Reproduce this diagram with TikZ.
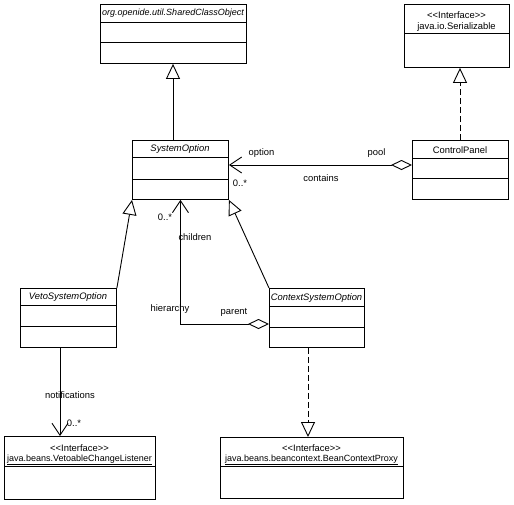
\documentclass[tikz,border=0pt]{standalone}
\usepackage{fontspec}
\setmainfont{Liberation Sans}
\usetikzlibrary{arrows.meta}
\newcommand{\stereo}{{<}{<}Interface{>}{>}}
\begin{document}
\begin{tikzpicture}[x=1pt,y=-1pt,
  font=\fontsize{9.4}{10}\selectfont,
  line width=0.9pt,
  box/.style={draw, rectangle, anchor=north west, inner sep=0pt},
  txt/.style={inner sep=0pt, anchor=center},
  long/.style={txt, font=\fontsize{9}{10}\selectfont},
  gen/.style={-{Triangle[open,length=15pt,width=14pt]}},
  assoc/.style={-{Straight Barb[length=12pt,width=16pt]}},
  aggr/.style={{Diamond[open,length=21pt,width=10pt]}-{Straight Barb[length=12pt,width=16pt]}},
  dash6/.style={dash pattern=on 6pt off 3pt}]
\useasboundingbox[fill=white] (0,0) rectangle (514,504);

% SharedClassObject
\node[box, minimum width=146pt, minimum height=59pt] (sco) at (100,4) {};
\draw (100,22) -- (246,22); \draw (100,42) -- (246,42);
\node[long] (scot) at (173,13) {\itshape org.openide.util.SharedClassObject};

% Serializable
\node[box, minimum width=105pt, minimum height=63pt] (ser) at (404,4) {};
\draw (404,33) -- (509,33);
\node[txt] (sert1) at (456.5,15) {\stereo};
\node[txt] (sert2) at (456.5,28) {\underline{java.io.Serializable}};

% SystemOption
\node[box, minimum width=96pt, minimum height=59pt] (so) at (132,140) {};
\draw (132,157) -- (228,157); \draw (132,179) -- (228,179);
\node[txt] (sot) at (180,149) {\itshape SystemOption};

% ControlPanel
\node[box, minimum width=96pt, minimum height=59pt] (cp) at (412,140) {};
\draw (412,158) -- (508,158); \draw (412,178) -- (508,178);
\node[txt] (cpt) at (460,150) {ControlPanel};

% VetoSystemOption
\node[box, minimum width=96pt, minimum height=59pt] (veto) at (20,288) {};
\draw (20,305) -- (116,305); \draw (20,326) -- (116,326);
\node[txt] (vetot) at (68,297) {\itshape VetoSystemOption};

% ContextSystemOption
\node[box, minimum width=95pt, minimum height=59pt] (ctx) at (269,288) {};
\draw (269,306) -- (364,306); \draw (269,327) -- (364,327);
\node[txt] (ctxt) at (316.5,298) {\itshape ContextSystemOption};

% VetoableChangeListener
\node[box, minimum width=151pt, minimum height=63pt] (vcl) at (4,436) {};
\draw (4,466) -- (155,466);
\node[txt] (vclt1) at (79.5,448) {\stereo};
\node[long] (vclt2) at (79.5,460) {\underline{java.beans.VetoableChangeListener}};

% BeanContextProxy
\node[box, minimum width=183pt, minimum height=61pt] (bcp) at (220,437) {};
\draw (220,466) -- (403,466);
\node[txt] (bcpt1) at (311.5,448) {\stereo};
\node[long] (bcpt2) at (311.5,460) {\underline{java.beans.beancontext.BeanContextProxy}};

% generalizations
\draw[gen] (so.north -| 173,0) -- (sco.south -| 173,0);
\draw[gen] (veto.north east) -- (so.south west);
\draw[gen] (ctx.north west) -- (so.south east);
% realizations
\draw[gen, dash6] (cp.north -| 460,0) -- (ser.south -| 460,0);
\draw[gen, dash6] (ctx.south -| 308,0) -- (bcp.north -| 308,0);

% contains
\draw[aggr] (cp.west |- 0,165) -- (so.east |- 0,165);
\node[txt] (l1) at (261.5,153) {option};
\node[txt] (l2) at (376.5,153) {pool};
\node[txt] (l3) at (321,178) {contains};
\node[txt] (l4) at (240,183) {0..*};

% hierarchy
\coordinate (hp) at (269,324);
\draw[aggr] (hp) -| (so.south);
\node[txt] (l5) at (165,217) {0..*};
\node[txt] (l6) at (195,237) {children};
\node[txt] (l7) at (170,309) {hierarchy};
\node[txt] (l8) at (234,312) {parent};

% notifications
\draw[assoc] (veto.south -| 60,0) -- (vcl.north -| 60,0);
\node[txt] (l9) at (70,395) {notifications};
\node[txt] (l10) at (74,423) {0..*};
\end{tikzpicture}
\end{document}
